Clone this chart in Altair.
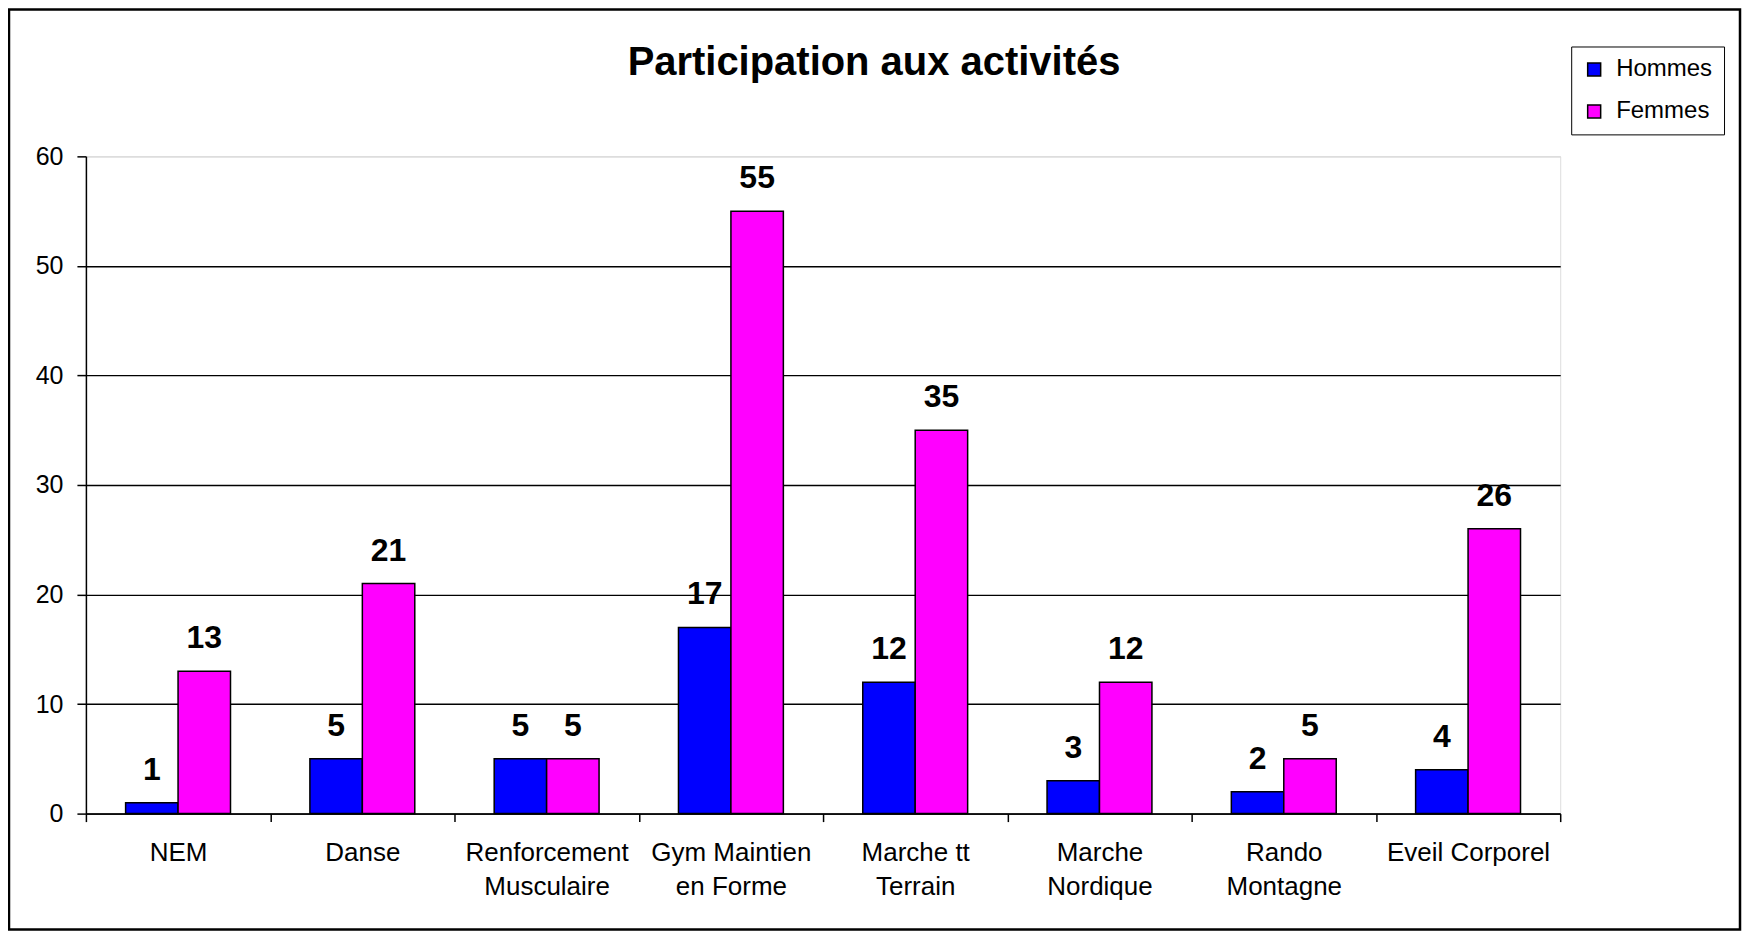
import altair as alt
import pandas as pd

# ---- data ----
title_text = "Participation aux activités"
categories = ["NEM", "Danse", "Renforcement\nMusculaire", "Gym Maintien\nen Forme",
              "Marche tt\nTerrain", "Marche\nNordique", "Rando\nMontagne", "Eveil Corporel"]
series = ["Hommes", "Femmes"]
hommes = [1, 5, 5, 17, 12, 3, 2, 4]
femmes = [13, 21, 5, 55, 35, 12, 5, 26]
y_ticks = [0, 10, 20, 30, 40, 50, 60]
colors = ["#0000FF", "#FF00FF"]

rows = []
for c, h, f in zip(categories, hommes, femmes):
    rows.append({"cat": c, "sexe": "Hommes", "n": h})
    rows.append({"cat": c, "sexe": "Femmes", "n": f})
df = pd.DataFrame(rows)

FONT = "Liberation Sans"
W, H = 1476, 658

x = alt.X("cat:N", sort=categories,
          scale=alt.Scale(paddingInner=0, paddingOuter=0),
          axis=alt.Axis(title=None, labelAngle=0, labelFontSize=26, labelFont=FONT,
                        labelColor="black", labelPadding=18, labelLineHeight=34,
                        labelExpr="split(datum.label, '\\n')", labelLimit=400,
                        tickBand="extent", tickSize=8, tickColor="black", tickWidth=1.5,
                        domainColor="black", domainWidth=1.5, grid=False,
                        labelBaseline="top"))
xo = alt.XOffset("sexe:N", sort=series,
                 scale=alt.Scale(paddingInner=0, paddingOuter=0.757))
y = alt.Y("n:Q", scale=alt.Scale(domain=[0, 60], nice=False),
          axis=alt.Axis(title=None, values=y_ticks, labelFontSize=25, labelFont=FONT,
                        labelColor="black", tickSize=9, tickColor="black", tickWidth=1.5,
                        domainColor="black", domainWidth=1.5, labelPadding=14,
                        grid=True, gridWidth=1.3,
                        gridColor={"condition": {"test": "datum.value == 60", "value": "#d8d8d8"},
                                   "value": "black"}))

base = alt.Chart(df)

bars = base.mark_bar(stroke="black", strokeWidth=1.5).encode(
    x=x, xOffset=xo, y=y,
    color=alt.Color("sexe:N", sort=series,
                    scale=alt.Scale(domain=series, range=colors),
                    legend=alt.Legend(title=None, orient="none", legendX=1487, legendY=-110,
                                      fillColor="white", strokeColor="black", padding=11,
                                      labelFontSize=24, labelFont=FONT, labelColor="black",
                                      symbolType="square", symbolSize=169,
                                      symbolStrokeColor="black", symbolStrokeWidth=1.5,
                                      symbolOpacity=1, rowPadding=18, labelOffset=10)),
)

labels = base.mark_text(fontSize=32, fontWeight="bold", font=FONT, dy=-23,
                        baseline="alphabetic", color="black").encode(
    x=x, xOffset=xo, y=y, text="n:Q")

one = pd.DataFrame({"d": [0]})
border = alt.Chart(one).mark_rect(
    filled=False, stroke="black", strokeWidth=2.5).encode(
    x=alt.value(-77), x2=alt.value(1656), y=alt.value(-147), y2=alt.value(774))

title = alt.Chart(one).mark_text(fontSize=40, fontWeight="bold", font=FONT, color="black",
                                 align="center", baseline="alphabetic").encode(
    x=alt.value(789), y=alt.value(-81), text=alt.value(title_text))

chart = alt.layer(border, bars, labels, title).properties(
    width=W, height=H,
    padding={"left": 78, "top": 148, "right": 182, "bottom": 118},
    autosize=alt.AutoSizeParams(type="none"),
).configure_view(stroke=None).configure(background="white")

chart.save("out.html", embed_options={"renderer": "svg", "actions": False})
